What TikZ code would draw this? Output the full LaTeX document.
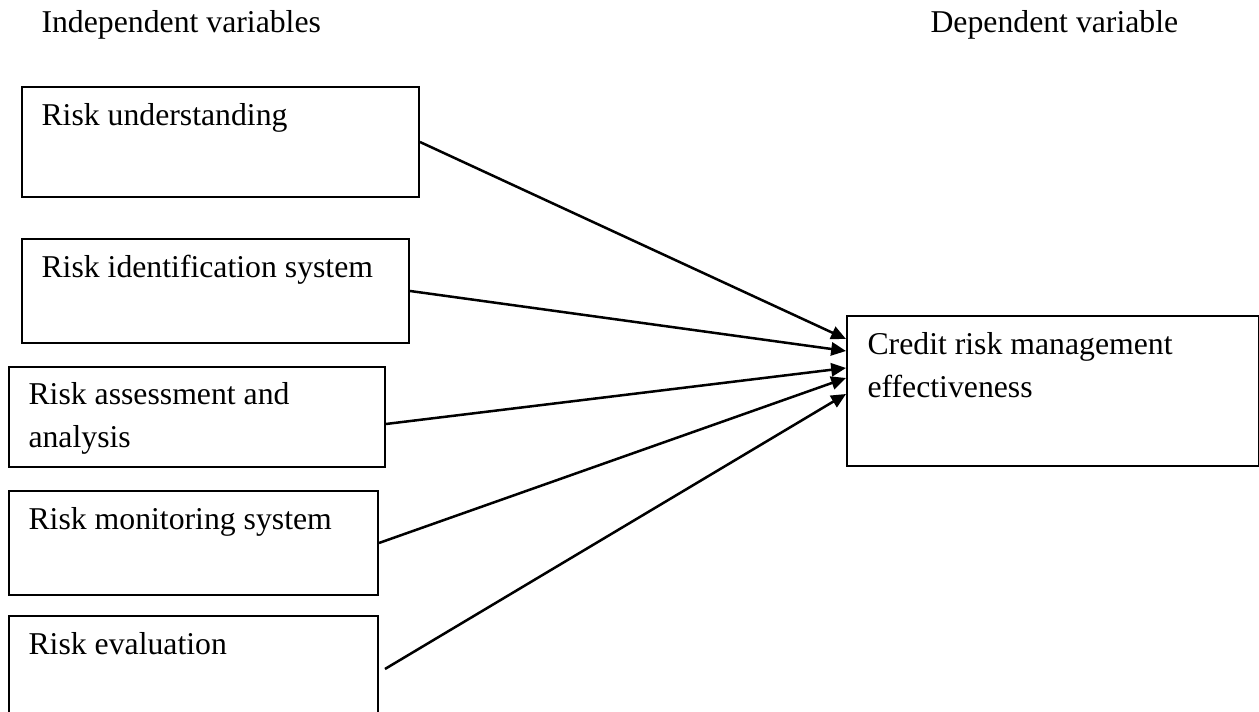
\documentclass[tikz,border=0pt]{standalone}
\usepackage{fontspec}
\setmainfont{Liberation Serif}
\usetikzlibrary{arrows.meta}
\newdimen\px \px=0.378pt
\tikzset{varbox/.style={draw,line width=0.75pt,inner sep=0pt,anchor=north west},
         vartext/.style={anchor=base west,inner sep=0pt,align=left,font=\fontsize{12}{16.3}\selectfont},
         link/.style={-{Triangle[length=5.6pt,width=5pt]},line width=0.95pt}}
\begin{document}
\begin{tikzpicture}[x=0.378pt,y=-0.378pt]
                  \useasboundingbox (0,0) rectangle (1259,712);
                  \node[vartext] (indep) at (41,33) {Independent variables};
                  \node[vartext] (dep) at (930,33) {Dependent variable};
                  \node[varbox,minimum width=397\px,minimum height=110\px] (ru) at (21,86) {};
                  \node[varbox,minimum width=387\px,minimum height=104\px] (ris) at (21,238) {};
                  \node[varbox,minimum width=376\px,minimum height=100\px] (raa) at (8,366) {};
                  \node[varbox,minimum width=369\px,minimum height=104\px] (rms) at (8,490) {};
                  \node[varbox,minimum width=369\px,minimum height=106\px] (rev) at (8,615) {};
                  \node[varbox,minimum width=412\px,minimum height=150\px] (crm) at (846,315) {};
                  % two-line texts sit on their last baseline
                  \node[vartext] (rutext) at ([shift={(20,40)}]ru.north west) {Risk understanding};
                  \node[vartext] (ristext) at ([shift={(20,40)}]ris.north west) {Risk identification system};
                  \node[vartext] (raatext) at ([shift={(20,82)}]raa.north west) {Risk assessment and\\analysis};
                  \node[vartext] (rmstext) at ([shift={(20,40)}]rms.north west) {Risk monitoring system};
                  \node[vartext] (revtext) at ([shift={(20,40)}]rev.north west) {Risk evaluation};
                  \node[vartext] (crmtext) at ([shift={(21,83)}]crm.north west) {Credit risk management\\effectiveness};
                  \coordinate (in1) at ([shift={(0,24)}]crm.north west);
                  \coordinate (in2) at ([shift={(0,36)}]crm.north west);
                  \coordinate (in3) at ([shift={(0,53)}]crm.north west);
                  \coordinate (in4) at ([shift={(0,63)}]crm.north west);
                  \coordinate (in5) at ([shift={(0,79)}]crm.north west);
                  \draw[link] (ru.east) -- (in1);
                  \draw[link] (ris.east) -- (in2);
                  \draw[link] ([shift={(0,7)}]raa.east) -- (in3);
                  \draw[link] (rms.east) -- (in4);
                  \draw[link] ([shift={(6,0)}]rev.east) -- (in5);
              \end{tikzpicture}
\end{document}
